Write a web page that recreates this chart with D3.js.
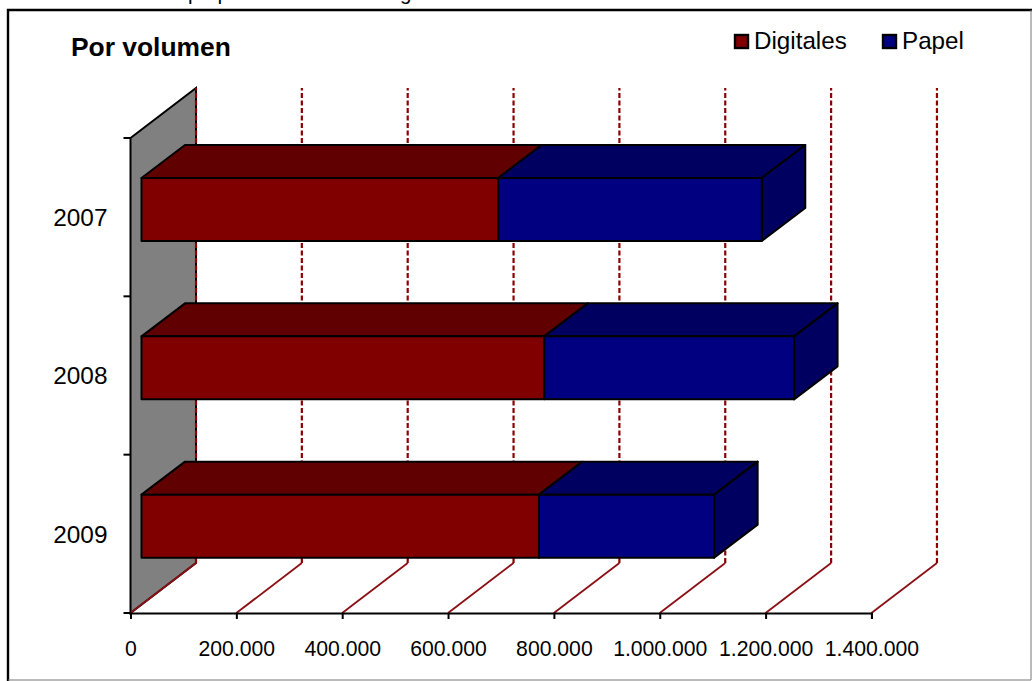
<!DOCTYPE html>
<html><head><meta charset="utf-8">
<script src="https://cdn.jsdelivr.net/npm/d3@7"></script>
<style>html,body{margin:0;padding:0;background:#fff;overflow:hidden}svg{display:block}text{font-family:"Liberation Sans",Arial,sans-serif;fill:#000}</style>
</head><body><svg id="c" width="1032" height="681"></svg>
<script>
const years = ["2007","2008","2009"];
const digitales = [674000, 761000, 751000];
const papel = [498000, 472000, 331000];
const tickValues = [0,200000,400000,600000,800000,1000000,1200000,1400000];
const seriesNames = ["Digitales","Papel"];
const colors = {Digitales:"#800000",Papel:"#000080"};
const topColors = {Digitales:"#600000",Papel:"#000060"};
const sideColor = "#000060";

const svg = d3.select("#c");
const fmt = v => d3.format(",")(v).replace(/,/g,".");

// caption overhanging the top of the picture, cut off as in the reference
svg.append("text").attr("x",33).attr("y",-0.5).attr("font-size",20.5)
  .text("Evolución de los paquetes de cuentos digitales en los últimos años");

// frame
svg.append("path").attr("d",`M8,681V10H1032`).attr("fill","none").attr("stroke","#000").attr("stroke-width",2.4);
svg.append("path").attr("d",`M8,680H1031V10`).attr("fill","none").attr("stroke","#777").attr("stroke-width",1);

const x0=130.5, perPx=105.85/200000;
const x = d3.scaleLinear().domain([0,1400000]).range([x0,x0+1400000*perPx]);
const y = d3.scaleBand().domain(years).range([138,613]);
const wall = {dx:65.5,dy:-50};

// side wall
const c = d3.path();
c.moveTo(x0,138);c.lineTo(x0+wall.dx,138+wall.dy);c.lineTo(x0+wall.dx,613+wall.dy);c.lineTo(x0,613);c.closePath();
svg.append("path").attr("d",c.toString()).attr("fill","#808080").attr("stroke","#000").attr("stroke-width",2);

// gridlines
const gridG = svg.append("g");
tickValues.forEach(t=>{
  gridG.append("line").attr("x1",x(t)).attr("y1",613).attr("x2",x(t)+wall.dx).attr("y2",613+wall.dy)
    .attr("stroke","#8b0f14").attr("stroke-width",1.8);
  gridG.append("line").attr("x1",x(t)+wall.dx).attr("y1",613+wall.dy).attr("x2",x(t)+wall.dx).attr("y2",138+wall.dy)
    .attr("stroke","#8b0000").attr("stroke-width",2.2).attr("stroke-dasharray","5,2.5");
});

// bars
const barInset=40, barH=63, ddx=43.5, ddy=-33, xShift=11;
const bx = v => x(v)+xShift;
function poly(pts,fill){svg.append("path").attr("d",d3.line()(pts)+"Z").attr("fill",fill).attr("stroke","#000").attr("stroke-width",2).attr("stroke-linejoin","round");}
years.forEach((yr,i)=>{
  const top=y(yr)+barInset, bot=top+barH;
  const a=0,b=digitales[i],e=digitales[i]+papel[i];
  poly([[bx(a),top],[bx(a)+ddx,top+ddy],[bx(b)+ddx,top+ddy],[bx(b),top]],topColors.Digitales);
  poly([[bx(b),top],[bx(b)+ddx,top+ddy],[bx(e)+ddx,top+ddy],[bx(e),top]],topColors.Papel);
  poly([[bx(e),top],[bx(e)+ddx,top+ddy],[bx(e)+ddx,bot+ddy],[bx(e),bot]],sideColor);
  poly([[bx(a),top],[bx(b),top],[bx(b),bot],[bx(a),bot]],colors.Digitales);
  poly([[bx(b),top],[bx(e),top],[bx(e),bot],[bx(b),bot]],colors.Papel);
});

// axes
const xAxis = d3.axisBottom(x).tickValues(tickValues).tickSize(6).tickPadding(22).tickFormat(fmt);
const gx = svg.append("g").attr("transform","translate(0,613)").call(xAxis);
gx.select(".domain").attr("stroke","#000").attr("stroke-width",2);
gx.selectAll(".tick line").attr("stroke","#000").attr("stroke-width",2);
gx.selectAll("text").attr("font-size",21.2).style("font-family",'"Liberation Sans",Arial,sans-serif').attr("fill","#000");

const yAxis = d3.axisLeft(y).tickValues(years).tickSize(0).tickPadding(23);
const gy = svg.append("g").attr("transform",`translate(${x0},1)`).call(yAxis);
gy.select(".domain").remove();
gy.selectAll("text").attr("font-size",24.4).style("font-family",'"Liberation Sans",Arial,sans-serif').attr("fill","#000");
[138,...years.map(d=>y(d)+y.bandwidth())].forEach(v=>{
  svg.append("line").attr("x1",x0-7).attr("x2",x0).attr("y1",v).attr("y2",v).attr("stroke","#000").attr("stroke-width",2);
});

// title
svg.append("text").attr("x",71).attr("y",56).attr("font-size",26.4).attr("font-weight","bold").text("Por volumen");

// legend
const legendX=[735,883];
seriesNames.forEach((s,i)=>{
  svg.append("rect").attr("x",legendX[i]).attr("y",35).attr("width",13).attr("height",13)
    .attr("fill",colors[s]).attr("stroke","#000").attr("stroke-width",2.4);
  svg.append("text").attr("x",legendX[i]+19).attr("y",49).attr("font-size",24.2).text(s);
});
</script></body></html>
